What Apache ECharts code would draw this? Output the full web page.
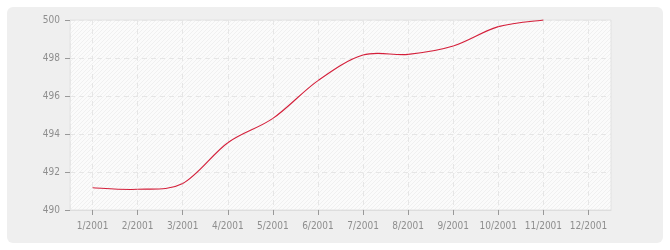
<!DOCTYPE html>
<html>
<head>
<meta charset="utf-8">
<script src="https://cdn.jsdelivr.net/npm/echarts@6/dist/echarts.min.js"></script>
<style>
html,body{margin:0;padding:0;background:#fff;}
#chart{width:670px;height:250px;}
</style>
</head>
<body>
<div id="chart"></div>
<script>
const categories = ['1/2001','2/2001','3/2001','4/2001','5/2001','6/2001','7/2001','8/2001','9/2001','10/2001','11/2001','12/2001'];
const values = [491.17, 491.09, 491.40, 493.54, 494.82, 496.81, 498.16, 498.19, 498.63, 499.65, 500.0];
const yTicks = [490, 492, 494, 496, 498, 500];

function makeHatch() {
  const c = document.createElement('canvas');
  c.width = 4; c.height = 4;
  const ctx = c.getContext('2d');
  ctx.fillStyle = '#fbfbfb';
  ctx.fillRect(0, 0, 4, 4);
  ctx.strokeStyle = '#f0f0f0';
  ctx.lineWidth = 1;
  ctx.beginPath();
  ctx.moveTo(-1, 5); ctx.lineTo(5, -1);
  ctx.moveTo(-1, 1); ctx.lineTo(1, -1);
  ctx.moveTo(3, 5); ctx.lineTo(5, 3);
  ctx.stroke();
  return c;
}

const seriesData = values.map(function (v, i) { return [i, v]; });

function renderSegment(params, api) {
  const i = params.dataIndex;
  const n = values.length;
  if (i >= n - 1) return null;
  const idx = function (k) { return Math.max(0, Math.min(n - 1, k)); };
  const pt = function (k) { const j = idx(k); return api.coord([j, values[j]]); };
  const p0 = pt(i - 1), p1 = pt(i), p2 = pt(i + 1), p3 = pt(i + 2);
  const t = 1 / 6;
  return {
    type: 'bezierCurve',
    shape: {
      x1: p1[0], y1: p1[1],
      x2: p2[0], y2: p2[1],
      cpx1: p1[0] + (p2[0] - p0[0]) * t,
      cpy1: p1[1] + (p2[1] - p0[1]) * t,
      cpx2: p2[0] - (p3[0] - p1[0]) * t,
      cpy2: p2[1] - (p3[1] - p1[1]) * t
    },
    style: {stroke: '#d41f3a', fill: null, lineWidth: 1.1}
  };
}

const chart = echarts.init(document.getElementById('chart'), null, {renderer: 'canvas'});
const font = '"DejaVu Sans Condensed", "DejaVu Sans", sans-serif';
chart.setOption({
  animation: false,
  backgroundColor: '#ffffff',
  graphic: [{
    type: 'rect',
    z: -10,
    shape: {x: 7, y: 7, width: 656, height: 236, r: 6},
    style: {fill: '#efefef'}
  }],
  grid: {
    left: 70, right: 59, top: 20, bottom: 40,
    show: true,
    backgroundColor: {image: makeHatch(), repeat: 'repeat'},
    borderColor: '#e2e2e2',
    borderWidth: 1
  },
  xAxis: {
    type: 'category',
    data: categories,
    boundaryGap: true,
    axisLine: {show: true, lineStyle: {color: '#dddddd', width: 1}},
    axisTick: {show: true, alignWithLabel: true, interval: 0, length: 5, lineStyle: {color: '#999999'}},
    axisLabel: {color: '#8e8e8e', fontSize: 10, fontFamily: font, margin: 11, interval: 0},
    splitLine: {show: true, alignWithLabel: true, interval: 0, lineStyle: {color: '#e6e6e6', type: [5, 4], width: 1}}
  },
  yAxis: {
    type: 'value',
    min: yTicks[0],
    max: yTicks[yTicks.length - 1],
    interval: 2,
    axisLine: {show: true, lineStyle: {color: '#e6e6e6', type: [5, 4]}},
    axisTick: {show: true, length: 5, lineStyle: {color: '#999999'}},
    axisLabel: {color: '#8e8e8e', fontSize: 10, fontFamily: font, margin: 10},
    splitLine: {show: true, lineStyle: {color: '#e6e6e6', type: [5, 4], width: 1}}
  },
  series: [{
    type: 'custom',
    data: seriesData,
    encode: {x: 0, y: 1},
    renderItem: renderSegment
  }]
});
</script>
</body>
</html>
